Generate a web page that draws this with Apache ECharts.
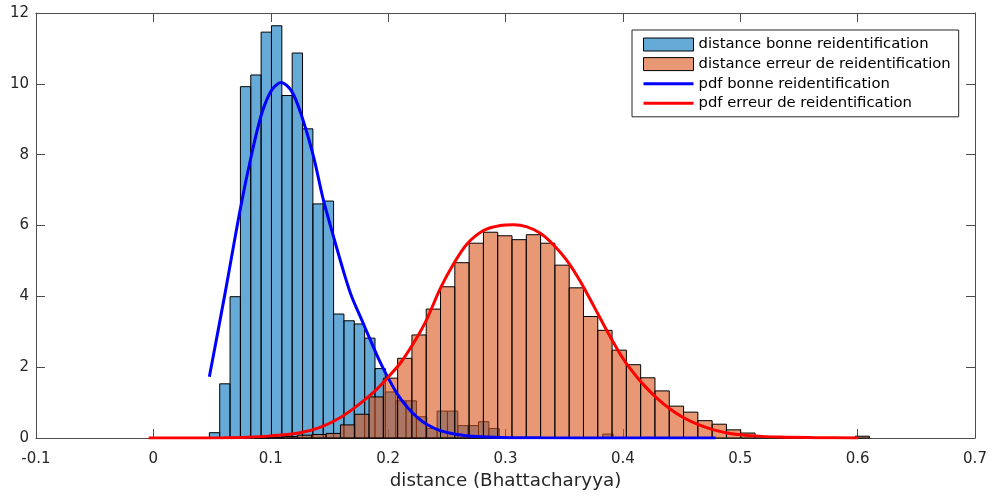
<!DOCTYPE html>
<html>
<head>
<meta charset="utf-8">
<script src="https://cdn.jsdelivr.net/npm/echarts@6/dist/echarts.min.js"></script>
<style>
html,body{margin:0;padding:0;background:#fff;}
#chart{width:990px;height:496px;}
</style>
</head>
<body>
<div id="chart"></div>
<script>
// ---- data ----
const seriesNames = [
  'distance bonne reidentification',
  'distance erreur de reidentification',
  'pdf bonne reidentification',
  'pdf erreur de reidentification'
];
const xTicks = [-0.1, 0, 0.1, 0.2, 0.3, 0.4, 0.5, 0.6, 0.7];
const yTicks = [0, 2, 4, 6, 8, 10, 12];

// histogram 1 (bonne reidentification): first bin edge, bin width, bar heights
const blueStart = 0.0477;
const blueWidth = 0.00882;
const blueHeights = [0.15, 1.53, 3.99, 9.92, 10.25, 11.46, 11.64, 9.67, 10.87, 8.73,
  6.61, 6.69, 3.50, 3.31, 3.22, 2.82, 1.96, 1.30, 1.05, 1.05,
  0.60, 0.27, 0.76, 0.76, 0.35, 0.35, 0.46, 0.27, 0, 0,
  0, 0, 0, 0, 0, 0, 0, 0, 0.11];

// histogram 2 (erreur de reidentification)
const orangeStart = 0.0863;
const orangeWidth = 0.01218;
const orangeHeights = [0.01, 0.02, 0.04, 0.08, 0.10, 0.13, 0.37, 0.67, 1.16, 1.69,
  2.25, 2.91, 3.64, 4.27, 4.95, 5.50, 5.81, 5.71, 5.60, 5.74,
  5.50, 4.88, 4.24, 3.43, 3.04, 2.48, 2.07, 1.70, 1.33, 0.90,
  0.73, 0.49, 0.39, 0.23, 0.14, 0.04, 0.02, 0.02, 0.01, 0.01,
  0, 0.01, 0.05];

// pdf curves (x, density)
const pdfBonneX = [0.0477, 0.0611, 0.0739, 0.0839, 0.0924, 0.1009, 0.1089, 0.118, 0.1265, 0.1364,
  0.145, 0.1549, 0.1634, 0.1691, 0.1777, 0.1847, 0.1918, 0.199, 0.2075, 0.216,
  0.2246, 0.2331, 0.2444, 0.2587, 0.2757, 0.2956, 0.33, 0.40, 0.479];
const pdfBonneY = [1.73, 4.09, 6.44, 8.04, 9.17, 9.83, 10.04, 9.78, 9.08, 7.95,
  6.70, 5.52, 4.55, 3.98, 3.32, 2.78, 2.24, 1.76, 1.26, 0.88,
  0.59, 0.38, 0.21, 0.10, 0.04, 0.015, 0.005, 0, 0];

const pdfErreurX = [-0.004, 0.03, 0.06, 0.08, 0.10, 0.125, 0.142, 0.159, 0.176, 0.1905,
  0.1984, 0.2103, 0.2217, 0.2322, 0.2444, 0.2558, 0.2672, 0.2813, 0.2956, 0.3069,
  0.3183, 0.3297, 0.341, 0.3524, 0.3638, 0.3751, 0.3865, 0.3979, 0.4064, 0.4177,
  0.4292, 0.4405, 0.4518, 0.4633, 0.4774, 0.4916, 0.5115, 0.534, 0.5627, 0.6005];
const pdfErreurY = [0, 0, 0.005, 0.02, 0.06, 0.15, 0.30, 0.57, 0.97, 1.38,
  1.66, 2.11, 2.68, 3.30, 4.22, 4.92, 5.48, 5.86, 6.00, 6.02,
  5.96, 5.78, 5.45, 5.01, 4.42, 3.73, 3.02, 2.36, 1.95, 1.50,
  1.12, 0.81, 0.57, 0.39, 0.23, 0.13, 0.06, 0.025, 0.01, 0];

const xLabel = 'distance (Bhattacharyya)';

// ---- build ----
function bins(start, width, heights) {
  const out = [];
  heights.forEach((h, i) => {
    if (h > 0) out.push([start + i * width, start + (i + 1) * width, h]);
  });
  return out;
}
function pairs(xs, ys) { return xs.map((x, i) => [x, ys[i]]); }

const FONT = 'DejaVu Sans';
const TXT = '#262626';
const AXC = '#4d4d4d';
const blueFill = 'rgba(0,114,189,0.6)';
const orangeFill = 'rgba(217,83,25,0.6)';

function histRender(fill) {
  return function (params, api) {
    const p0 = api.coord([api.value(0), api.value(2)]);
    const p1 = api.coord([api.value(1), 0]);
    return {
      type: 'rect',
      shape: { x: p0[0], y: p0[1], width: p1[0] - p0[0], height: p1[1] - p0[1] },
      style: { fill: fill, stroke: '#000', lineWidth: 1 }
    };
  };
}

const chart = echarts.init(document.getElementById('chart'), null, { renderer: 'canvas' });

function axisBase() {
  return {
    axisLine: { show: true, onZero: false, lineStyle: { color: AXC, width: 1 } },
    axisTick: { show: true, inside: true, length: 9, lineStyle: { color: AXC, width: 1 } },
    splitLine: { show: false }
  };
}

chart.setOption({
  animation: false,
  backgroundColor: '#fff',
  grid: { left: 36, right: 15, top: 13, bottom: 58, containLabel: false },
  xAxis: [
    Object.assign({
      type: 'value', position: 'bottom',
      min: xTicks[0], max: xTicks[xTicks.length - 1], interval: 0.1,
      name: xLabel, nameLocation: 'middle', nameGap: 33,
      nameTextStyle: { fontFamily: FONT, fontSize: 18.3, color: TXT },
      axisLabel: {
        show: true, margin: 14, fontFamily: FONT, fontSize: 15, color: TXT,
        formatter: v => {
          const r = Math.round(v * 10) / 10;
          return xTicks.indexOf(r) >= 0 ? String(r) : '';
        }
      }
    }, axisBase()),
    Object.assign({
      type: 'value', position: 'top',
      min: xTicks[0], max: xTicks[xTicks.length - 1], interval: 0.1,
      axisLabel: { show: false }
    }, axisBase())
  ],
  yAxis: [
    Object.assign({
      type: 'value', position: 'left',
      min: yTicks[0], max: yTicks[yTicks.length - 1], interval: 2,
      axisLabel: { show: true, margin: 7, fontFamily: FONT, fontSize: 15, color: TXT }
    }, axisBase()),
    Object.assign({
      type: 'value', position: 'right',
      min: yTicks[0], max: yTicks[yTicks.length - 1], interval: 2,
      axisLabel: { show: false }
    }, axisBase())
  ],
  legend: {
    orient: 'vertical',
    left: 632, top: 30,
    padding: [7, 8, 6, 10],
    itemWidth: 50, itemHeight: 13, itemGap: 4.6,
    backgroundColor: '#fff',
    borderColor: '#262626', borderWidth: 1,
    textStyle: { fontFamily: FONT, fontSize: 14.8, lineHeight: 14, color: '#000' },
    data: [
      { name: seriesNames[0], icon: 'rect', itemStyle: { color: blueFill, borderColor: '#000', borderWidth: 1 } },
      { name: seriesNames[1], icon: 'rect', itemStyle: { color: orangeFill, borderColor: '#000', borderWidth: 1 } },
      { name: seriesNames[2], itemStyle: { color: 'rgba(0,0,0,0)', borderColor: 'rgba(0,0,0,0)', borderWidth: 0, opacity: 0 }, lineStyle: { color: '#0000ff', width: 3 } },
      { name: seriesNames[3], itemStyle: { color: 'rgba(0,0,0,0)', borderColor: 'rgba(0,0,0,0)', borderWidth: 0, opacity: 0 }, lineStyle: { color: '#ff0000', width: 3 } }
    ]
  },
  series: [
    {
      name: seriesNames[0], type: 'custom',
      renderItem: histRender(blueFill),
      itemStyle: { color: blueFill },
      encode: { x: [0, 1], y: 2 },
      data: bins(blueStart, blueWidth, blueHeights),
      z: 2
    },
    {
      name: seriesNames[1], type: 'custom',
      renderItem: histRender(orangeFill),
      itemStyle: { color: orangeFill },
      encode: { x: [0, 1], y: 2 },
      data: bins(orangeStart, orangeWidth, orangeHeights),
      z: 3
    },
    {
      name: seriesNames[2], type: 'line',
      data: pairs(pdfBonneX, pdfBonneY),
      symbol: 'none', showSymbol: false,
      smooth: 0.3,
      color: '#0000ff',
      lineStyle: { color: '#0000ff', width: 3 },
      z: 4
    },
    {
      name: seriesNames[3], type: 'line',
      data: pairs(pdfErreurX, pdfErreurY),
      symbol: 'none', showSymbol: false,
      smooth: 0.3,
      color: '#ff0000',
      lineStyle: { color: '#ff0000', width: 3 },
      z: 5
    }
  ]
});
</script>
</body>
</html>
